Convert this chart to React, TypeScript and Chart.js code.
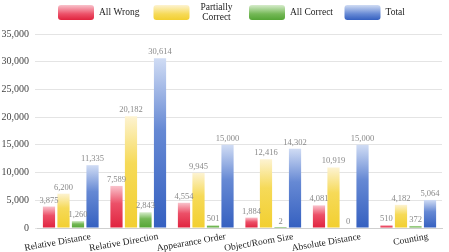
import { useEffect, useRef } from 'react';
import { Chart, registerables } from 'chart.js';

Chart.register(...registerables);

const categories = [
  'Relative Distance',
  'Relative Direction',
  'Appearance Order',
  'Object/Room Size',
  'Absolute Distance',
  'Counting',
];
const allWrong = [3875, 7589, 4554, 1884, 4081, 510];
const partiallyCorrect = [6200, 20182, 9945, 12416, 10919, 4182];
const allCorrect = [1260, 2843, 501, 2, 0, 372];
const total = [11335, 30614, 15000, 14302, 15000, 5064];
const seriesNames = ['All Wrong', 'Partially Correct', 'All Correct', 'Total'];
const legendLines = [['All Wrong'], ['Partially', 'Correct'], ['All Correct'], ['Total']];
const yMax = 35000;
const yStep = 5000;

const FONT = "'Liberation Serif', 'Times New Roman', serif";

const palette = [
  { light: '#f9c3cc', mid: '#ec5068', dark: '#e0233e' },
  { light: '#fdf3d2', mid: '#f6da58', dark: '#f2cf30' },
  { light: '#d6eccb', mid: '#74b856', dark: '#54a535' },
  { light: '#d0dcf4', mid: '#6689d4', dark: '#3560c0' },
];

const fmt = (v: number) => v.toLocaleString('en-US');

function makeGradient(ctx: CanvasRenderingContext2D, top: number, bottom: number, p: { light: string; mid: string; dark: string }) {
  const g = ctx.createLinearGradient(0, top, 0, bottom);
  g.addColorStop(0, p.light);
  g.addColorStop(0.42, p.mid);
  g.addColorStop(1, p.dark);
  return g;
}

const valueLabelPlugin = {
  id: 'valueLabels',
  afterDatasetsDraw(chart: any) {
    const ctx = chart.ctx as CanvasRenderingContext2D;
    ctx.save();
    ctx.font = `8.5px ${FONT}`;
    ctx.fillStyle = '#8a8a8a';
    ctx.textAlign = 'center';
    ctx.textBaseline = 'bottom';
    chart.data.datasets.forEach((ds: any, di: number) => {
      const meta = chart.getDatasetMeta(di);
      meta.data.forEach((el: any, i: number) => {
        const v = ds.data[i] as number;
        ctx.fillText(fmt(v), el.x, el.y - 2);
      });
    });
    ctx.restore();
  },
};

const xLabelPlugin = {
  id: 'xLabels',
  afterDraw(chart: any) {
    const ctx = chart.ctx as CanvasRenderingContext2D;
    const xs = chart.scales.x;
    const bottom = chart.chartArea.bottom;
    ctx.save();
    ctx.font = `9.5px ${FONT}`;
    ctx.fillStyle = '#222';
    ctx.textAlign = 'right';
    ctx.textBaseline = 'middle';
    categories.forEach((c, i) => {
      const x = xs.getPixelForTick(i);
      ctx.save();
      ctx.translate(x + 20, bottom + 8.5);
      ctx.rotate((-10 * Math.PI) / 180);
      ctx.fillText(c, 0, 0);
      ctx.restore();
    });
    ctx.restore();
  },
};

const legendPlugin = {
  id: 'customLegend',
  afterDraw(chart: any) {
    const ctx = chart.ctx as CanvasRenderingContext2D;
    const boxW = 36;
    const boxH = 15;
    const slot = 95.5;
    const top = 5;
    const startX = chart.chartArea.left + 21;
    ctx.save();
    ctx.font = `9.5px ${FONT}`;
    ctx.fillStyle = '#222';
    legendLines.forEach((lines, i) => {
      const bx = startX + i * slot;
      const p = palette[i];
      const g = ctx.createLinearGradient(0, top, 0, top + boxH);
      g.addColorStop(0, p.light);
      g.addColorStop(0.6, p.mid);
      g.addColorStop(1, p.dark);
      ctx.fillStyle = g;
      ctx.beginPath();
      (ctx as any).roundRect(bx, top, boxW, boxH, 3);
      ctx.fill();
      ctx.fillStyle = '#222';
      ctx.textBaseline = 'middle';
      const cy = top + boxH / 2;
      if (lines.length === 1) {
        ctx.textAlign = 'left';
        ctx.fillText(lines[0], bx + boxW + 5, cy);
      } else {
        ctx.textAlign = 'center';
        const lh = 10;
        lines.forEach((ln, k) => {
          ctx.fillText(ln, bx + boxW + 27, cy + (k - (lines.length - 1) / 2) * lh);
        });
      }
    });
    ctx.restore();
  },
};

export default function App() {
  const ref = useRef<HTMLCanvasElement | null>(null);

  useEffect(() => {
    if (!ref.current) return;
    const seriesData = [allWrong, partiallyCorrect, allCorrect, total];
    const chart = new Chart(ref.current, {
      type: 'bar',
      data: {
        labels: categories,
        datasets: seriesData.map((d, si) => ({
          label: seriesNames[si],
          data: d,
          categoryPercentage: 0.86,
          barPercentage: 0.84,
          backgroundColor: (c: any) => {
            const p = palette[si];
            const chartObj = c.chart;
            const ys = chartObj.scales && chartObj.scales.y;
            if (c.type !== 'data' || !chartObj.chartArea || !ys) return p.dark;
            const v = c.raw as number;
            const t = ys.getPixelForValue(v);
            const b = ys.getPixelForValue(0);
            if (b - t < 1) return p.dark;
            return makeGradient(chartObj.ctx, t, b, p);
          },
          borderWidth: 0,
        })),
      },
      options: {
        responsive: true,
        maintainAspectRatio: false,
        animation: false,
        layout: { padding: { top: 34, right: 7, bottom: 16, left: 0 } },
        plugins: {
          legend: { display: false },
          tooltip: { enabled: false },
        },
        scales: {
          x: {
            grid: { display: false },
            border: { display: true, color: '#cfcfcf' },
            ticks: { display: false },
          },
          y: {
            min: 0,
            max: yMax,
            border: { display: false },
            grid: { color: '#e4e4e4', tickLength: 2 },
            afterFit: (scale: any) => {
              scale.width = 37;
            },
            ticks: {
              stepSize: yStep,
              padding: 6,
              color: '#444',
              font: { family: FONT, size: 10 },
              callback: (v: any) => fmt(Number(v)),
            },
          },
        },
      },
      plugins: [valueLabelPlugin, xLabelPlugin, legendPlugin],
    });
    return () => chart.destroy();
  }, []);

  return (
    <div style={{ position: 'absolute', left: 0, top: 0, width: 449, height: 252 }}>
      <canvas ref={ref} />
    </div>
  );
}
